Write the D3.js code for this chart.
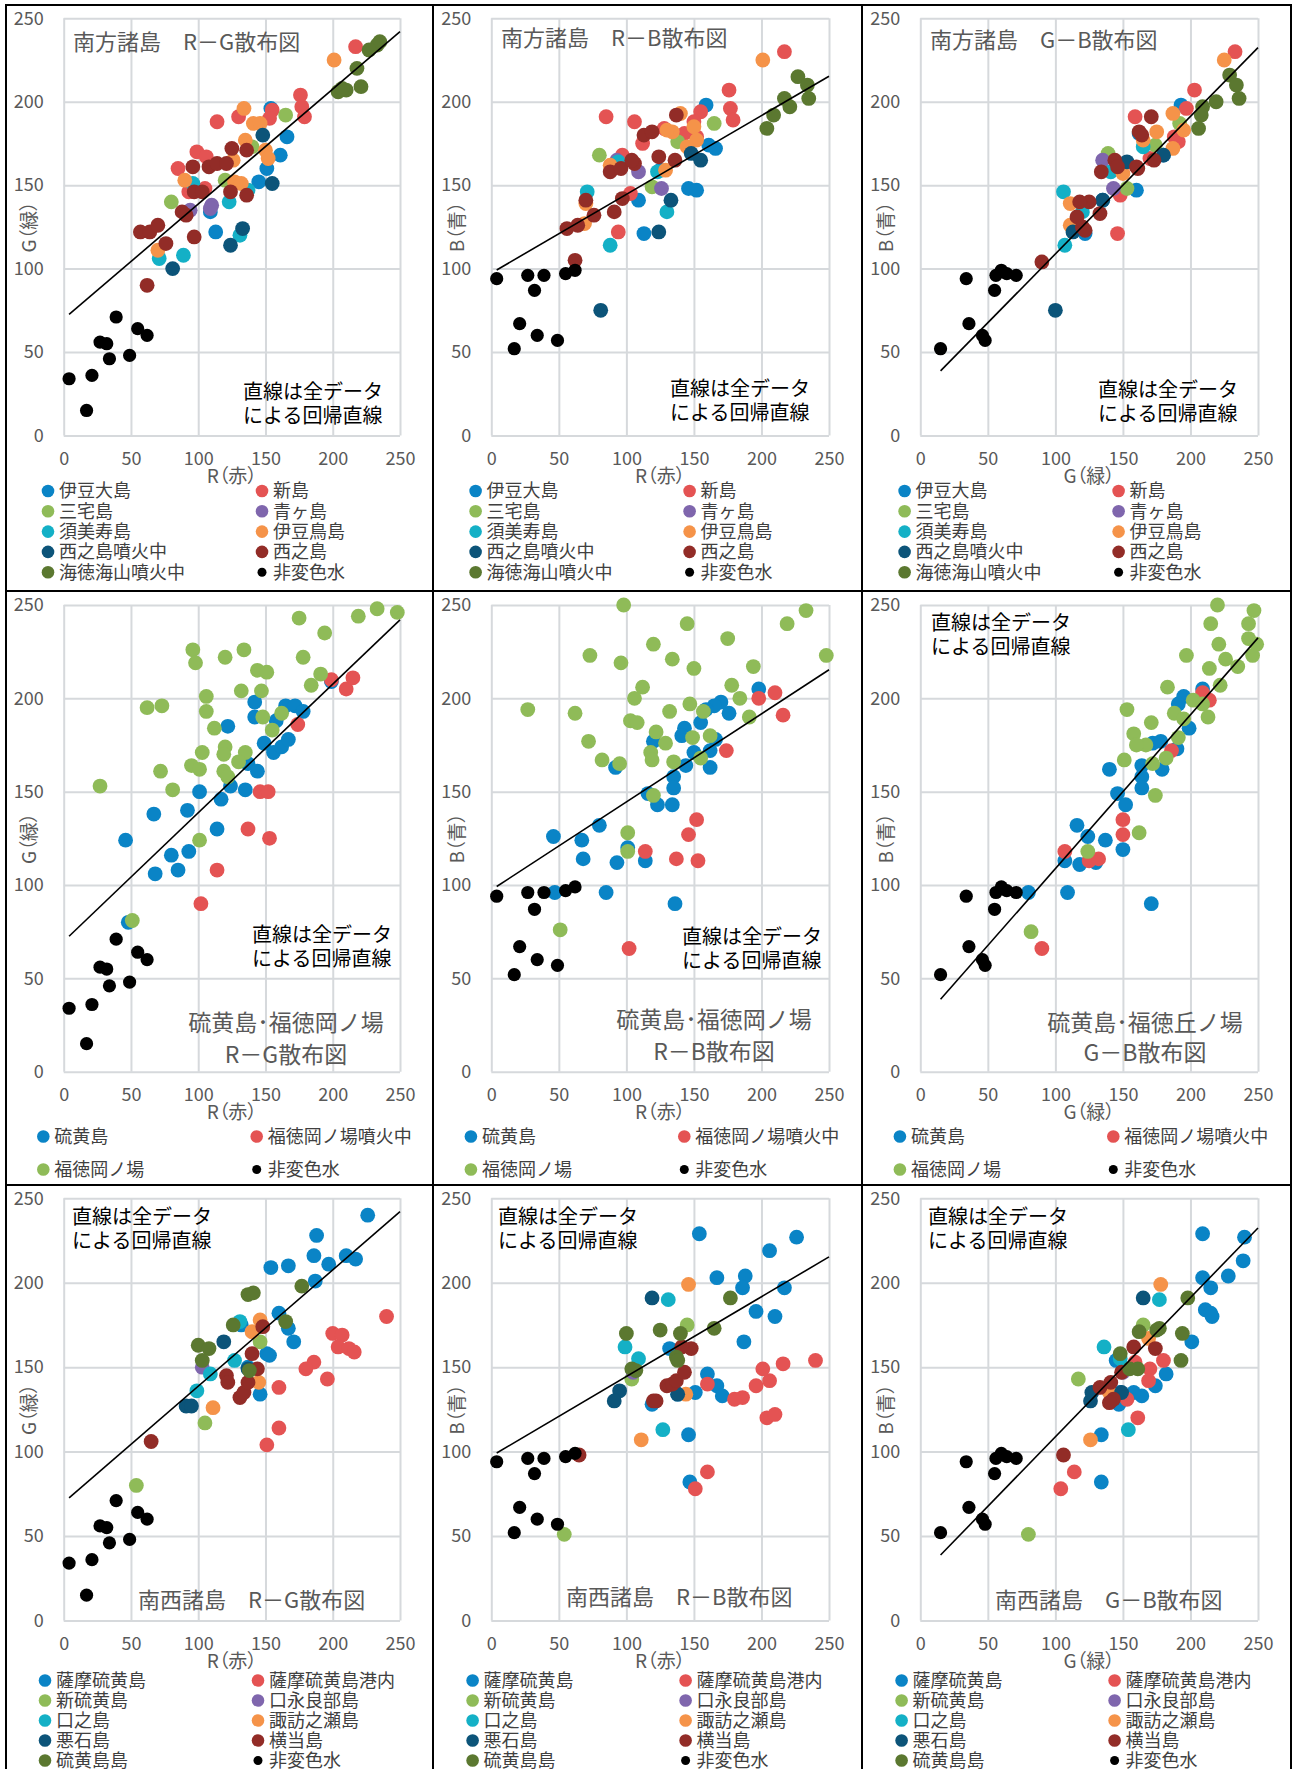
<!DOCTYPE html>
<html>
<head>
<meta charset="utf-8">
<script src="https://cdn.jsdelivr.net/npm/d3@7"></script>
<style>
body { margin: 0; background: #fff; }
text { font-family: "Noto Sans CJK JP", "Noto Sans", sans-serif; }
.palt { font-feature-settings: "palt"; }
</style>
</head>
<body>
<script>
// 非変色水 (same samples in every panel): R, G, B
var waterR = [4, 17, 21, 27, 32, 34, 39, 49, 55, 62];
var waterG = [34, 15, 36, 56, 55, 46, 71, 48, 64, 60];
var waterB = [94, 52, 67, 96, 87, 60, 96, 57, 97, 99];

var ticks = [0, 50, 100, 150, 200, 250];

// regression over all data: [intercept, slope]
var fitRG = [69.8, 0.689];
var fitRB = [97.3, 0.472];
var fitGB = [26.4, 0.824];

var nanpoSeries = ["伊豆大島", "新島", "三宅島", "青ヶ島", "須美寿島", "伊豆鳥島", "西之島噴火中", "西之島", "海徳海山噴火中", "非変色水"];
var iwoSeries = ["硫黄島", "福徳岡ノ場噴火中", "福徳岡ノ場", "非変色水"];
var nanseiSeries = ["薩摩硫黄島", "薩摩硫黄島港内", "新硫黄島", "口永良部島", "口之島", "諏訪之瀬島", "悪石島", "横当島", "硫黄島島", "非変色水"];

var tenColors = ["#0a84c6", "#e45353", "#8fbb58", "#7f66ad", "#14b0c6", "#f59349", "#0c5479", "#922c27", "#5b7830", "#000"];
var fourColors = ["#0a84c6", "#e45353", "#8fbb58", "#000"];

// ---- 南方諸島 ----
var nanpoRG = {
  "伊豆大島": [[154,196],[166,179],[161,168],[151,160],[145,152],[113,122],[109,134]],
  "新島": [[217,233],[176,204],[177,197],[179,191],[155,195],[153,190],[130,191],[114,188],[99,170],[106,167],[85,160],[93,146],[105,148]],
  "三宅島": [[165,192],[80,140],[120,153],[140,173]],
  "青ヶ島": [[94,135],[110,138],[109,136]],
  "須美寿島": [[96,151],[71,106],[89,108],[123,140],[131,120],[137,147]],
  "伊豆鳥島": [[201,225],[134,196],[141,187],[146,187],[135,177],[150,171],[152,166],[126,165],[90,153],[127,152],[132,151],[70,111]],
  "西之島噴火中": [[148,180],[155,151],[133,124],[124,114],[81,100]],
  "西之島": [[57,122],[64,122],[70,126],[76,115],[62,90],[88,134],[91,132],[97,119],[96,161],[108,161],[114,163],[121,163],[125,172],[136,171],[124,146],[136,144],[97,146],[103,146]],
  "海徳海山噴火中": [[235,236],[233,234],[227,231],[218,220],[210,207],[204,206],[221,209],[207,208]]
};
var nanpoRB = {
  "伊豆大島": [[159,198],[166,172],[161,174],[146,148],[152,147],[109,141],[113,121],[125,159]],
  "新島": [[217,230],[176,207],[177,196],[179,189],[155,194],[150,188],[85,191],[106,188],[112,175],[97,168],[103,145],[94,122],[143,181],[152,179],[128,184]],
  "三宅島": [[165,187],[80,168],[138,176],[119,149]],
  "青ヶ島": [[93,165],[109,158],[126,148]],
  "須美寿島": [[71,146],[88,114],[130,134],[123,158],[94,164]],
  "伊豆鳥島": [[201,225],[140,193],[150,185],[134,182],[130,183],[145,173],[152,177],[129,159],[88,162],[70,139],[69,127]],
  "西之島噴火中": [[148,169],[155,165],[133,141],[124,122],[81,75]],
  "西之島": [[56,124],[64,126],[76,132],[70,141],[62,105],[91,134],[97,142],[88,158],[96,160],[106,163],[104,165],[113,180],[119,182],[124,167],[136,165],[137,192]],
  "海徳海山噴火中": [[227,215],[234,210],[235,202],[217,202],[221,197],[209,192],[204,184]]
};
var nanpoGB = {
  "伊豆大島": [[193,198],[160,147],[135,141],[122,121],[162,181],[180,168]],
  "新島": [[233,230],[203,207],[197,196],[159,191],[188,179],[191,176],[148,144],[146,121],[170,166]],
  "三宅島": [[139,169],[192,187],[174,174],[153,148]],
  "青ヶ島": [[135,165],[143,148]],
  "須美寿島": [[106,146],[107,114],[120,134],[141,158],[165,173]],
  "伊豆鳥島": [[225,225],[187,193],[195,183],[175,182],[187,172],[165,177],[150,157],[111,139],[111,126]],
  "西之島噴火中": [[180,168],[153,164],[113,122],[100,75],[135,141]],
  "西之島": [[90,104],[134,158],[144,165],[146,161],[164,180],[162,182],[171,191],[160,161],[161,160],[173,165],[133,133],[125,140],[118,140],[116,131],[120,125],[122,123]],
  "海徳海山噴火中": [[229,216],[234,210],[236,202],[219,200],[209,197],[208,192],[206,184]]
};

// ---- 硫黄島・福徳岡ノ場 ----
var iwoRG = {
  "硫黄島": [[142,198],[142,190],[122,185],[165,196],[172,196],[178,193],[158,188],[149,176],[156,171],[162,174],[167,178],[137,165],[144,161],[135,151],[124,153],[117,146],[101,150],[92,140],[67,138],[114,130],[46,124],[80,116],[93,118],[85,108],[68,106],[48,80],[199,209]],
  "福徳岡ノ場噴火中": [[199,210],[210,205],[215,211],[174,186],[146,150],[152,150],[137,130],[153,125],[114,108],[102,90]],
  "福徳岡ノ場": [[248,246],[233,248],[219,244],[175,243],[194,235],[178,222],[134,226],[120,222],[96,226],[98,219],[144,215],[151,214],[191,213],[184,207],[132,204],[147,204],[106,201],[106,193],[73,196],[62,195],[112,184],[148,190],[162,192],[155,183],[120,174],[135,171],[103,171],[119,170],[95,164],[101,162],[72,161],[119,161],[130,166],[122,158],[81,151],[27,153],[101,124],[51,81]]
};
var iwoRB = {
  "硫黄島": [[198,205],[176,192],[170,198],[165,196],[159,194],[155,187],[143,184],[141,180],[120,177],[166,178],[162,172],[150,171],[144,164],[162,163],[135,158],[135,152],[116,149],[123,143],[134,143],[80,132],[46,126],[67,124],[68,114],[93,112],[101,120],[114,113],[85,96],[136,90],[47,96],[92,163]],
  "福徳岡ノ場噴火中": [[198,200],[210,203],[216,191],[174,172],[152,135],[146,127],[114,118],[137,114],[153,113],[102,66]],
  "福徳岡ノ場": [[98,250],[233,247],[219,240],[145,240],[175,232],[120,229],[248,223],[73,223],[134,221],[96,219],[150,216],[194,217],[178,207],[112,206],[106,200],[184,200],[147,197],[132,193],[157,193],[27,194],[62,192],[191,190],[103,188],[108,187],[122,182],[149,179],[162,180],[72,177],[129,176],[118,171],[119,167],[135,166],[155,168],[82,167],[95,165],[120,148],[101,128],[101,118],[51,76]]
};
var iwoGB = {
  "硫黄島": [[209,205],[195,201],[191,197],[199,184],[190,173],[172,176],[178,177],[164,164],[179,162],[140,162],[164,158],[164,152],[146,149],[152,143],[116,132],[124,126],[137,124],[150,119],[107,113],[118,111],[130,112],[80,96],[109,96],[171,90]],
  "福徳岡ノ場噴火中": [[209,203],[214,199],[186,172],[150,135],[150,127],[107,118],[125,113],[132,114],[90,66]],
  "福徳岡ノ場": [[220,250],[247,247],[215,240],[243,240],[221,229],[243,232],[249,229],[197,223],[226,221],[246,223],[235,217],[214,216],[222,207],[183,206],[202,199],[209,197],[153,194],[188,192],[195,189],[213,190],[171,187],[158,181],[167,175],[191,179],[160,175],[151,167],[182,168],[172,165],[174,148],[162,128],[124,118],[82,75]]
};

// ---- 南西諸島 ----
var nanseiRG = {
  "薩摩硫黄島": [[226,240],[188,228],[186,216],[197,211],[210,216],[217,214],[154,209],[167,210],[187,201],[160,182],[167,173],[171,165],[151,158],[153,157],[132,175],[146,134],[137,150]],
  "薩摩硫黄島港内": [[240,180],[200,170],[207,169],[204,162],[212,161],[216,159],[186,153],[180,149],[196,143],[160,138],[160,114],[151,104]],
  "新硫黄島": [[54,80],[105,117],[146,165]],
  "口永良部島": [[103,150]],
  "口之島": [[131,177],[127,154],[109,146],[99,136]],
  "諏訪之瀬島": [[111,126],[146,178],[140,171],[145,141]],
  "悪石島": [[91,127],[95,127],[119,165],[137,149]],
  "横当島": [[65,106],[121,145],[122,141],[131,132],[134,135],[137,141],[140,158],[144,149],[148,174]],
  "硫黄島島": [[177,198],[137,193],[141,194],[126,175],[165,177],[100,163],[108,161],[103,154],[138,148]]
};
var nanseiRB = {
  "薩摩硫黄島": [[154,229],[226,227],[206,219],[167,203],[188,204],[186,197],[217,197],[196,183],[210,180],[187,165],[160,146],[167,139],[171,133],[151,135],[138,134],[119,128],[132,161],[146,110],[147,82]],
  "薩摩硫黄島港内": [[240,154],[216,152],[201,149],[206,142],[196,139],[186,132],[180,131],[204,120],[210,122],[160,140],[160,88],[151,78]],
  "新硫黄島": [[54,51],[145,175],[104,143]],
  "口永良部島": [[105,147]],
  "口之島": [[131,190],[99,162],[109,155],[127,113]],
  "諏訪之瀬島": [[146,199],[111,107],[144,134]],
  "悪石島": [[119,191],[95,136],[91,130],[138,134]],
  "横当島": [[65,98],[120,130],[122,130],[130,139],[134,140],[137,142],[143,147],[148,161],[141,162]],
  "硫黄島島": [[177,191],[165,173],[125,172],[100,170],[140,170],[137,156],[138,154],[104,149],[107,148]]
};
var nanseiGB = {
  "薩摩硫黄島": [[209,229],[240,227],[239,213],[228,204],[209,203],[215,197],[211,184],[215,182],[216,180],[201,165],[182,146],[174,139],[164,133],[158,135],[148,135],[147,128],[134,110],[134,82],[145,154]],
  "薩摩硫黄島港内": [[180,154],[170,149],[169,142],[159,153],[161,120],[153,131],[114,88],[104,78]],
  "新硫黄島": [[80,51],[117,143],[165,175]],
  "口永良部島": [[150,147]],
  "口之島": [[136,162],[177,190],[154,113],[148,155]],
  "諏訪之瀬島": [[178,199],[126,107],[169,167],[140,135]],
  "悪石島": [[165,191],[126,130],[127,135],[149,135]],
  "横当島": [[106,98],[158,162],[174,161],[149,147],[141,141],[133,138],[143,131],[140,129]],
  "硫黄島島": [[198,191],[194,170],[193,154],[177,173],[175,172],[162,171],[148,158],[155,149],[161,149]]
};

// layout
var colX0 = [63.7, 491.3, 920.3], colX1 = [400, 829, 1258];
var rowY0 = [435.5, 1071.7, 1620.5], rowY1 = [18.3, 605, 1198.3];
var legendLayout = [
  { top: 491, step: 20.3, dx: -15.7, colGap: 214 },
  { top: 1136.5, step: 33, dx: -20.4, colGap: 213.4 },
  { top: 1680.5, step: 20, dx: -18.7, colGap: 213 }
];

var panels = [
  { row: 0, col: 0, data: nanpoRG, series: nanpoSeries, colors: tenColors, xs: waterR, ys: waterG, fit: fitRG, xTitle: "R（赤）", yTitle: "G（緑）",
    title: [["南方諸島　R－G散布図", 73, 42, "start", 22]], note: [243, 392] },
  { row: 0, col: 1, data: nanpoRB, series: nanpoSeries, colors: tenColors, xs: waterR, ys: waterB, fit: fitRB, xTitle: "R（赤）", yTitle: "B（青）",
    title: [["南方諸島　R－B散布図", 501, 38, "start", 22]], note: [670, 389] },
  { row: 0, col: 2, data: nanpoGB, series: nanpoSeries, colors: tenColors, xs: waterG, ys: waterB, fit: fitGB, xTitle: "G（緑）", yTitle: "B（青）",
    title: [["南方諸島　G－B散布図", 930, 40, "start", 22]], note: [1098, 390] },
  { row: 1, col: 0, data: iwoRG, series: iwoSeries, colors: fourColors, xs: waterR, ys: waterG, fit: fitRG, xTitle: "R（赤）", yTitle: "G（緑）",
    title: [["硫黄島･福徳岡ノ場", 286, 1023, "middle", 23], ["R－G散布図", 286, 1055, "middle", 23]], note: [252, 935] },
  { row: 1, col: 1, data: iwoRB, series: iwoSeries, colors: fourColors, xs: waterR, ys: waterB, fit: fitRB, xTitle: "R（赤）", yTitle: "B（青）",
    title: [["硫黄島･福徳岡ノ場", 714, 1020, "middle", 23], ["R－B散布図", 714, 1052, "middle", 23]], note: [682, 937] },
  { row: 1, col: 2, data: iwoGB, series: iwoSeries, colors: fourColors, xs: waterG, ys: waterB, fit: fitGB, xTitle: "G（緑）", yTitle: "B（青）",
    title: [["硫黄島･福徳丘ノ場", 1145, 1023, "middle", 23], ["G－B散布図", 1145, 1053, "middle", 23]], note: [931, 623] },
  { row: 2, col: 0, data: nanseiRG, series: nanseiSeries, colors: tenColors, xs: waterR, ys: waterG, fit: fitRG, xTitle: "R（赤）", yTitle: "G（緑）",
    title: [["南西諸島　R－G散布図", 138, 1600, "start", 22]], note: [72, 1217] },
  { row: 2, col: 1, data: nanseiRB, series: nanseiSeries, colors: tenColors, xs: waterR, ys: waterB, fit: fitRB, xTitle: "R（赤）", yTitle: "B（青）",
    title: [["南西諸島　R－B散布図", 566, 1597, "start", 22]], note: [498, 1217] },
  { row: 2, col: 2, data: nanseiGB, series: nanseiSeries, colors: tenColors, xs: waterG, ys: waterB, fit: fitGB, xTitle: "G（緑）", yTitle: "B（青）",
    title: [["南西諸島　G－B散布図", 995, 1600, "start", 22]], note: [928, 1217] }
];

var svg = d3.select("body").append("svg")
    .attr("width", 1296).attr("height", 1769)
    .style("display", "block");

function styleAxis(g) {
  g.select(".domain").remove();
  g.selectAll(".tick line").attr("stroke", "#d6d9dc").attr("stroke-width", 2);
  g.selectAll(".tick text").attr("fill", "#595959").attr("font-size", 18);
}

panels.forEach(function(p) {
  var x = d3.scaleLinear().domain([0, 250]).range([colX0[p.col], colX1[p.col]]);
  var y = d3.scaleLinear().domain([0, 250]).range([rowY0[p.row], rowY1[p.row]]);
  var g = svg.append("g");

  g.append("g")
      .attr("transform", "translate(" + x(0) + ",0)")
      .call(d3.axisLeft(y).tickValues(ticks).tickSize(-(x(250) - x(0))).tickPadding(20))
      .call(styleAxis);
  g.append("g")
      .attr("transform", "translate(0," + y(0) + ")")
      .call(d3.axisBottom(x).tickValues(ticks).tickSize(-(y(0) - y(250))).tickPadding(17))
      .call(styleAxis);

  // axis titles
  g.append("text")
      .attr("class", "palt")
      .attr("x", (x(0) + x(250)) / 2).attr("y", y(0) + 41)
      .attr("dy", "0.35em").attr("text-anchor", "middle")
      .attr("font-size", 19).attr("fill", "#595959")
      .text(p.xTitle);
  g.append("text")
      .attr("class", "palt")
      .attr("transform", "translate(" + (x(0) - 34) + "," + ((y(0) + y(250)) / 2) + ") rotate(-90)")
      .attr("dy", "0.35em").attr("text-anchor", "middle")
      .attr("font-size", 19).attr("fill", "#595959")
      .text(p.yTitle);

  // points, in legend order, 非変色水 last
  var pts = [];
  p.series.forEach(function(name, i) {
    var list = name === "非変色水"
      ? p.xs.map(function(v, k) { return [v, p.ys[k]]; })
      : (p.data[name] || []);
    list.forEach(function(d) { pts.push({ v: d, c: p.colors[i], black: name === "非変色水" }); });
  });
  g.selectAll("circle.pt")
    .data(pts)
    .enter().append("circle")
      .attr("class", "pt")
      .attr("cx", function(d) { return x(d.v[0]); })
      .attr("cy", function(d) { return y(d.v[1]); })
      .attr("r", function(d) { return d.black ? 6.6 : 7.4; })
      .attr("fill", function(d) { return d.c; });

  // regression line
  var x1 = d3.min(p.xs);
  g.append("line")
      .attr("x1", x(x1)).attr("y1", y(p.fit[0] + p.fit[1] * x1))
      .attr("x2", x(250)).attr("y2", y(p.fit[0] + p.fit[1] * 250))
      .attr("stroke", "#000").attr("stroke-width", 1.6);

  // panel titles
  p.title.forEach(function(t) {
    g.append("text")
        .attr("x", t[1]).attr("y", t[2]).attr("dy", "0.35em")
        .attr("text-anchor", t[3])
        .attr("font-size", t[4]).attr("fill", "#595959")
        .text(t[0]);
  });

  // note
  ["直線は全データ", "による回帰直線"].forEach(function(s, i) {
    g.append("text")
        .attr("x", p.note[0]).attr("y", p.note[1] + i * 24).attr("dy", "0.35em")
        .attr("font-size", 20).attr("fill", "#000")
        .text(s);
  });

  // legend
  var L = legendLayout[p.row];
  var lg = g.selectAll("g.leg")
    .data(p.series)
    .enter().append("g")
      .attr("class", "leg")
      .attr("transform", function(d, i) {
        return "translate(" + (x(0) + L.dx + (i % 2) * L.colGap) + "," + (L.top + Math.floor(i / 2) * L.step) + ")";
      });
  lg.append("circle")
      .attr("r", function(d) { return d === "非変色水" ? 4.5 : 6.3; })
      .attr("fill", function(d, i) { return p.colors[i]; });
  lg.append("text")
      .attr("x", 11).attr("dy", "0.35em")
      .attr("font-size", 18).attr("fill", "#404040")
      .text(function(d) { return d; });
});

// panel frame lines
var vx = [6, 433, 862, 1291], hy = [5, 591, 1185];
svg.selectAll("line.vframe").data(vx).enter().append("line")
    .attr("class", "vframe")
    .attr("x1", function(d) { return d; }).attr("x2", function(d) { return d; })
    .attr("y1", 4).attr("y2", 1769)
    .attr("stroke", "#000").attr("stroke-width", 2);
svg.selectAll("line.hframe").data(hy).enter().append("line")
    .attr("class", "hframe")
    .attr("x1", 5).attr("x2", 1292)
    .attr("y1", function(d) { return d; }).attr("y2", function(d) { return d; })
    .attr("stroke", "#000").attr("stroke-width", 2);
</script>
</body>
</html>
